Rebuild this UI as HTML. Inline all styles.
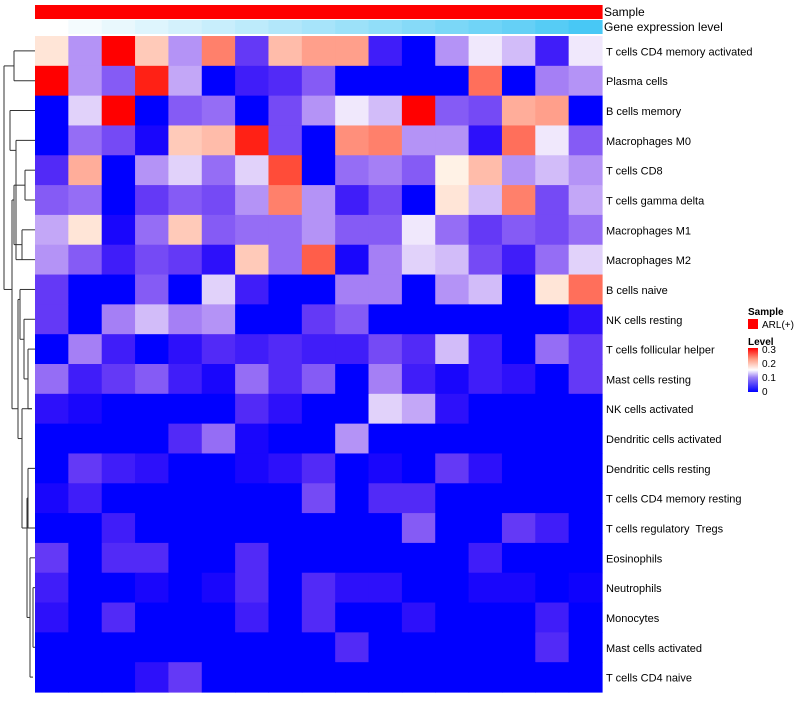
<!DOCTYPE html>
<html><head><meta charset="utf-8"><style>
body{margin:0;background:#fff;font-family:"Liberation Sans",sans-serif;}
svg text{font-family:"Liberation Sans",sans-serif;white-space:pre;}
</style></head><body>
<svg id="chart" width="800" height="700" xmlns="http://www.w3.org/2000/svg">
<g id="annot"></g><g id="cells"></g><g id="labels"></g><g id="dendro" stroke="#333" fill="none" stroke-width="1"></g>
<text x="604" y="16" font-size="12">Sample</text>
<text x="604" y="31" font-size="12">Gene expression level</text>
<g>
<text x="748" y="315" font-size="10" font-weight="bold">Sample</text>
<rect x="748" y="319" width="10" height="10" fill="#ff0000"/>
<text x="762" y="328" font-size="10">ARL(+)</text>
<text x="748" y="345" font-size="10" font-weight="bold">Level</text>
<defs><linearGradient id="lg" x1="0" y1="1" x2="0" y2="0"><stop offset="0" stop-color="#0000ff"/><stop offset="0.33" stop-color="#9a80f5"/><stop offset="0.5" stop-color="#ffffff"/><stop offset="0.75" stop-color="#ff9a80"/><stop offset="1" stop-color="#ff0000"/></linearGradient></defs>
<rect x="748" y="348" width="10" height="44" fill="url(#lg)"/>
<text x="762" y="353" font-size="10">0.3</text>
<text x="762" y="367" font-size="10">0.2</text>
<text x="762" y="381" font-size="10">0.1</text>
<text x="762" y="395" font-size="10">0</text>
</g>
</svg>
<script>
const rowNames=["T cells CD4 memory activated","Plasma cells","B cells memory","Macrophages M0","T cells CD8","T cells gamma delta","Macrophages M1","Macrophages M2","B cells naive","NK cells resting","T cells follicular helper","Mast cells resting","NK cells activated","Dendritic cells activated","Dendritic cells resting","T cells CD4 memory resting","T cells regulatory  Tregs","Eosinophils","Neutrophils","Monocytes","Mast cells activated","T cells CD4 naive"];
const geneLevel=[0,0.06,0.12,0.18,0.24,0.3,0.36,0.42,0.48,0.54,0.6,0.66,0.72,0.78,0.84,0.92,1];
const values=[
[0.17,0.1,0.3,0.19,0.1,0.24,0.05,0.2,0.22,0.22,0.03,0,0.1,0.14,0.12,0.03,0.14],
[0.3,0.1,0.07,0.29,0.11,0,0.03,0.04,0.07,0,0,0,0,0.25,0,0.09,0.1],
[0,0.13,0.3,0,0.07,0.08,0,0.06,0.1,0.14,0.12,0.3,0.07,0.06,0.21,0.22,0],
[0,0.08,0.06,0.01,0.19,0.2,0.29,0.06,0,0.23,0.24,0.1,0.1,0.02,0.25,0.14,0.07],
[0.04,0.21,0,0.1,0.13,0.08,0.13,0.27,0,0.08,0.09,0.07,0.16,0.2,0.1,0.12,0.1],
[0.07,0.08,0,0.05,0.07,0.06,0.1,0.24,0.1,0.03,0.06,0,0.17,0.12,0.24,0.06,0.11],
[0.11,0.17,0.01,0.08,0.19,0.07,0.08,0.08,0.1,0.07,0.07,0.14,0.08,0.05,0.07,0.06,0.08],
[0.1,0.07,0.03,0.06,0.05,0.02,0.19,0.08,0.26,0.01,0.09,0.13,0.12,0.06,0.03,0.08,0.13],
[0.05,0,0,0.07,0,0.13,0.03,0,0,0.09,0.09,0,0.1,0.12,0,0.17,0.25],
[0.05,0,0.09,0.12,0.09,0.1,0,0,0.05,0.07,0,0,0,0,0,0,0.02],
[0,0.09,0.03,0,0.02,0.04,0.03,0.04,0.03,0.03,0.06,0.04,0.12,0.03,0,0.08,0.05],
[0.08,0.03,0.05,0.07,0.03,0.01,0.08,0.04,0.07,0,0.09,0.03,0.01,0.03,0.02,0,0.05],
[0.02,0.01,0,0,0,0,0.04,0.02,0,0,0.13,0.11,0.02,0,0,0,0],
[0,0,0,0,0.04,0.08,0.01,0,0,0.1,0,0,0,0,0,0,0],
[0,0.05,0.03,0.02,0,0,0.01,0.02,0.04,0,0.01,0,0.05,0.02,0,0,0],
[0.01,0.03,0,0,0,0,0,0,0.06,0,0.04,0.04,0,0,0,0,0],
[0,0,0.03,0,0,0,0,0,0,0,0,0.07,0,0,0.05,0.03,0],
[0.05,0,0.04,0.04,0,0,0.04,0,0,0,0,0,0,0.03,0,0,0],
[0.03,0,0,0.01,0,0.01,0.04,0,0.04,0.02,0.02,0,0,0.01,0.01,0,0.005],
[0.02,0,0.04,0,0,0,0.03,0,0.04,0,0,0.02,0,0,0,0.03,0],
[0,0,0,0,0,0,0,0,0,0.04,0,0,0,0,0,0.04,0],
[0,0,0,0.02,0.05,0,0,0,0,0,0,0,0,0,0,0,0]];
const X0=35,X1=602,Y0=36,Y1=692,nC=17,nR=22,cw=(X1-X0)/nC,rh=(Y1-Y0)/nR;
const xPos=c=>X0+c*cw, yPos=r=>Y0+r*rh;
function col(v){const t=Math.max(0,Math.min(1,v/0.3));let r,g,b;
if(t<0.5){const s=t/0.5;r=255*Math.pow(s,0.85);g=255*Math.pow(s,1.35);b=255-10*Math.sin(s*Math.PI);}
else{const s=(t-0.5)/0.5;r=255;g=255*Math.pow(1-s,0.75);b=245*Math.pow(1-s,0.9);}
return `rgb(${r|0},${g|0},${b|0})`;}
const NS="http://www.w3.org/2000/svg";
const cells=document.getElementById('cells'),annot=document.getElementById('annot'),labels=document.getElementById('labels');
values.forEach((row,r)=>row.forEach((v,c)=>{const e=document.createElementNS(NS,'rect');
e.setAttribute('x',xPos(c));e.setAttribute('y',yPos(r));e.setAttribute('width',cw+0.6);e.setAttribute('height',rh+0.6);e.setAttribute('fill',col(v));


cells.appendChild(e);}));
geneLevel.forEach((g,c)=>{const a=document.createElementNS(NS,'rect');
a.setAttribute('x',xPos(c));a.setAttribute('y',5);a.setAttribute('width',cw+0.6);a.setAttribute('height',14);a.setAttribute('fill','#ff0000');


annot.appendChild(a);
const b=document.createElementNS(NS,'rect');
b.setAttribute('x',xPos(c));b.setAttribute('y',20);b.setAttribute('width',cw+0.6);b.setAttribute('height',14);
b.setAttribute('fill',`rgb(${(255-183*g)|0},${(255-55*g)|0},${(255-10*g)|0})`);


annot.appendChild(b);});
rowNames.forEach((n,r)=>{const t=document.createElementNS(NS,'text');
t.setAttribute('x',606);t.setAttribute('y',yPos(r)+rh/2+4.5);t.setAttribute('font-size','11');t.textContent=n;


labels.appendChild(t);});
const yc=r=>yPos(r)+rh/2;
const d=document.getElementById('dendro');
function seg(x1,y1,x2,y2){const p=document.createElementNS(NS,'path');p.setAttribute('d',`M${x1},${y1}L${x2},${y2}`);


d.appendChild(p);}
function join(xl,ya,xa,yb,xb){seg(xa,ya,xl,ya);seg(xl,ya,xl,yb);seg(xl,yb,xb,yb);}
join(14,yc(0),35,yc(1),35);
join(10,yc(2),35,yc(3)+10,16);
join(16,yc(3),35,yc(7),22);
join(25,yc(4),35,yc(5),35);
join(22,yc(6),35,yc(7),35);
join(14,yc(4)+15,25,yc(7)-15,22);
join(20,yc(8),35,yc(9)+20,24);
join(24,yc(9),35,yc(11),28);
join(28,yc(10),35,yc(12),32);
join(18,yc(8)+10,20,yc(13),22);
join(22,yc(12),32,yc(16),28);
join(28,yc(14),35,yc(16),35);
join(30,yc(17),35,yc(21),33);
join(33,yc(18),35,yc(20),35);
join(27,yc(15),28,yc(19),30);
join(12,yc(5),14,yc(12),18);
join(4,yc(0)+15,14,yc(8),12);
</script>
</body></html>
